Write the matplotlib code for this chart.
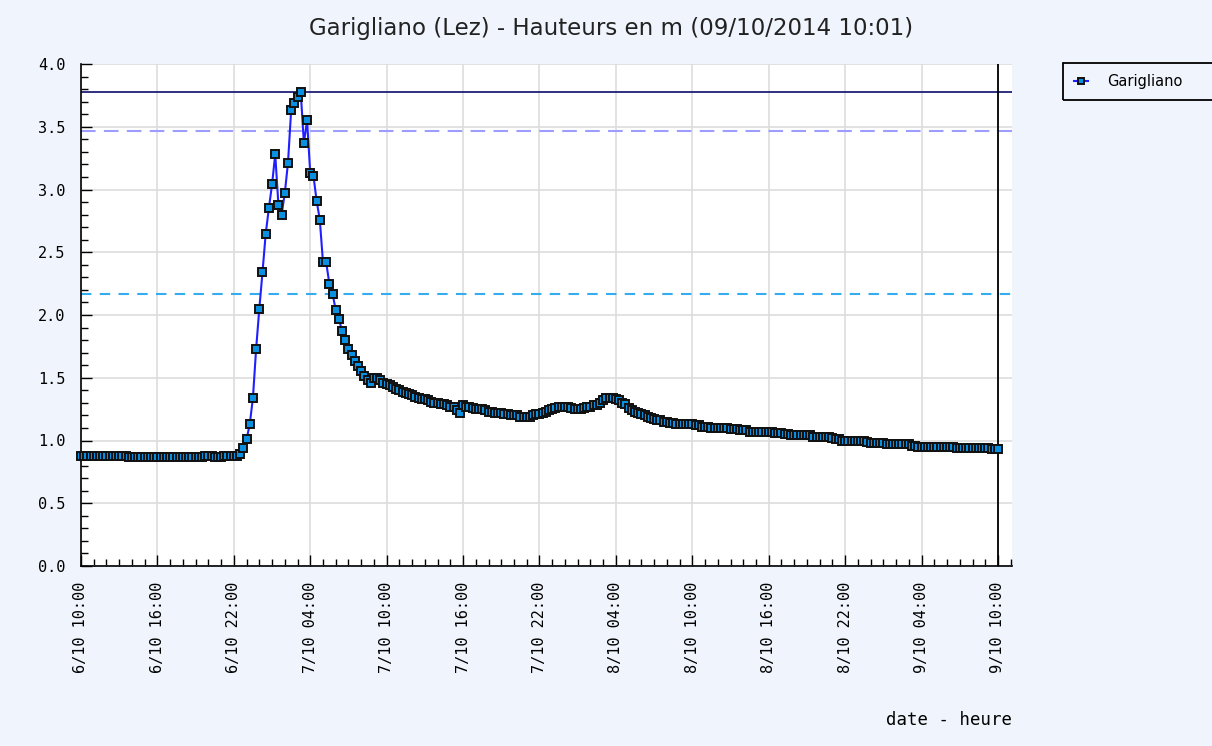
import matplotlib
matplotlib.use("Agg")
import matplotlib.pyplot as plt
import matplotlib.dates as mdates
from matplotlib.patches import Rectangle
import pandas as pd

# levels every 15 min from 6/10 10:00 (one row = one hour)
hauteurs = [
    0.88, 0.88, 0.88, 0.88,
    0.88, 0.88, 0.88, 0.88,
    0.88, 0.88, 0.88, 0.88,
    0.88, 0.88, 0.88, 0.87,
    0.87, 0.87, 0.87, 0.87,
    0.87, 0.87, 0.87, 0.87,
    0.87, 0.87, 0.87, 0.87,
    0.87, 0.87, 0.87, 0.87,
    0.87, 0.87, 0.87, 0.87,
    0.87, 0.87, 0.87, 0.88,
    0.88, 0.88, 0.87, 0.87,
    0.87, 0.88, 0.88, 0.88,
    0.88, 0.88, 0.89, 0.94,
    1.01, 1.13, 1.34, 1.73,
    2.05, 2.34, 2.645, 2.85,
    3.04, 3.28, 2.88, 2.80,
    2.97, 3.21, 3.63, 3.69,
    3.74, 3.78, 3.37, 3.55,
    3.13, 3.11, 2.91, 2.76,
    2.42, 2.42, 2.25, 2.17,
    2.04, 1.97, 1.87, 1.80,
    1.73, 1.68, 1.63, 1.59,
    1.55, 1.51, 1.48, 1.46,
    1.50, 1.50, 1.48, 1.46,
    1.45, 1.44, 1.43, 1.41,
    1.40, 1.39, 1.38, 1.37,
    1.36, 1.35, 1.34, 1.33,
    1.33, 1.32, 1.31, 1.30,
    1.30, 1.29, 1.29, 1.28,
    1.27, 1.27, 1.24, 1.22,
    1.28, 1.27, 1.27, 1.26,
    1.25, 1.25, 1.25, 1.24,
    1.23, 1.23, 1.22, 1.22,
    1.22, 1.21, 1.21, 1.20,
    1.20, 1.20, 1.19, 1.19,
    1.19, 1.19, 1.20, 1.21,
    1.21, 1.22, 1.23, 1.24,
    1.25, 1.26, 1.27, 1.27,
    1.27, 1.27, 1.26, 1.25,
    1.25, 1.25, 1.26, 1.27,
    1.27, 1.28, 1.28, 1.30,
    1.32, 1.34, 1.34, 1.34,
    1.33, 1.32, 1.30, 1.29,
    1.26, 1.24, 1.23, 1.22,
    1.21, 1.20, 1.19, 1.18,
    1.17, 1.16, 1.16, 1.15,
    1.15, 1.14, 1.14, 1.13,
    1.13, 1.13, 1.13, 1.13,
    1.13, 1.12, 1.12, 1.11,
    1.11, 1.11, 1.10, 1.10,
    1.10, 1.10, 1.10, 1.10,
    1.09, 1.09, 1.09, 1.08,
    1.08, 1.08, 1.07, 1.07,
    1.07, 1.07, 1.07, 1.07,
    1.07, 1.07, 1.06, 1.06,
    1.06, 1.05, 1.05, 1.04,
    1.04, 1.04, 1.04, 1.04,
    1.04, 1.04, 1.03, 1.03,
    1.03, 1.03, 1.03, 1.03,
    1.02, 1.01, 1.01, 1.00,
    1.00, 1.00, 1.00, 1.00,
    1.00, 1.00, 1.00, 0.99,
    0.98, 0.98, 0.98, 0.98,
    0.98, 0.97, 0.97, 0.97,
    0.97, 0.97, 0.97, 0.97,
    0.97, 0.96, 0.96, 0.95,
    0.95, 0.95, 0.95, 0.95,
    0.95, 0.95, 0.95, 0.95,
    0.95, 0.95, 0.95, 0.94,
    0.94, 0.94, 0.94, 0.94,
    0.94, 0.94, 0.94, 0.94,
    0.94, 0.94, 0.93, 0.93,
    0.93,
]
debut = "2014-10-06 10:00"
maintenant = "2014-10-09 10:01"
fin = "2014-10-09 11:06"

# threshold lines
seuil_max = 3.777
seuil_2 = 3.466
seuil_1 = 2.167

titre = "Garigliano (Lez) - Hauteurs en m (09/10/2014 10:01)"

dates = pd.date_range(debut, periods=len(hauteurs), freq="15min")

bg = "#f0f4fc"
fig = plt.figure(figsize=(12.12, 7.46), dpi=100, facecolor=bg)
ax = fig.add_axes([81/1212, 1-566/746, (1012-81)/1212, (566-64)/746])
ax.set_facecolor("white")

ax.grid(True, which="major", color="#dddddd", lw=1.2, zorder=0)

ax.axhline(seuil_max, color="#1f1f7a", lw=1.3, zorder=2)
ax.axhline(seuil_2, color="#9d9dff", lw=1.5, ls=(0, (7, 4)), zorder=2)
ax.axhline(seuil_1, color="#36acf0", lw=1.5, ls=(0, (5, 4)), zorder=2)
ax.axvline(pd.Timestamp(maintenant), color="black", lw=1.3, zorder=2)

ax.plot(dates, hauteurs, color="#1f1fff", lw=1.5, marker="s", ms=5.6,
        mfc="#0a90e0", mec="#111111", mew=1.4, label="Garigliano",
        zorder=3, clip_on=False)

ax.set_ylim(0, 4)
ax.set_xlim(pd.Timestamp(debut), pd.Timestamp(fin))
ax.yaxis.set_major_locator(plt.MultipleLocator(0.5))
ax.yaxis.set_minor_locator(plt.MultipleLocator(0.1))
ax.yaxis.set_major_formatter(plt.FormatStrFormatter("%.1f"))

ax.xaxis.set_major_locator(mdates.HourLocator(byhour=[4, 10, 16, 22]))
ax.xaxis.set_minor_locator(mdates.HourLocator())
ax.xaxis.set_major_formatter(mdates.DateFormatter("%-d/%m %H:%M"))

ax.tick_params(which="major", direction="in", length=8, width=1, colors="black",
               labelsize=11, pad=11)
ax.tick_params(which="minor", direction="in", length=5, width=1)
for lab in ax.get_xticklabels() + ax.get_yticklabels():
    lab.set_family("DejaVu Sans Mono")
plt.setp(ax.get_xticklabels(), rotation=90)

for s in ["top", "right"]:
    ax.spines[s].set_visible(False)
for s in ["left", "bottom"]:
    ax.spines[s].set_linewidth(1.2)

ax.set_xlabel("date - heure", family="DejaVu Sans Mono", fontsize=12.5,
              loc="right", labelpad=28)

fig.text(611/1212, 1-28/746, titre, ha="center", va="center", fontsize=16.5,
         color="#222222")

# legend box runs off the right edge as in the original
fig.patches.append(Rectangle((1063/1212, 1-100/746), 160/1212, 37/746,
                             transform=fig.transFigure, fill=False,
                             edgecolor="black", lw=1.3))
leg = ax.legend(loc="center left", bbox_to_anchor=(1068/1212, 1-81.5/746),
                bbox_transform=fig.transFigure, borderaxespad=0,
                frameon=False, handlelength=1.0, handletextpad=1.3,
                prop={"size": 10.5})
leg.get_lines()[0].set_markersize(4)

fig.savefig("out.png", dpi=100, facecolor=bg)
